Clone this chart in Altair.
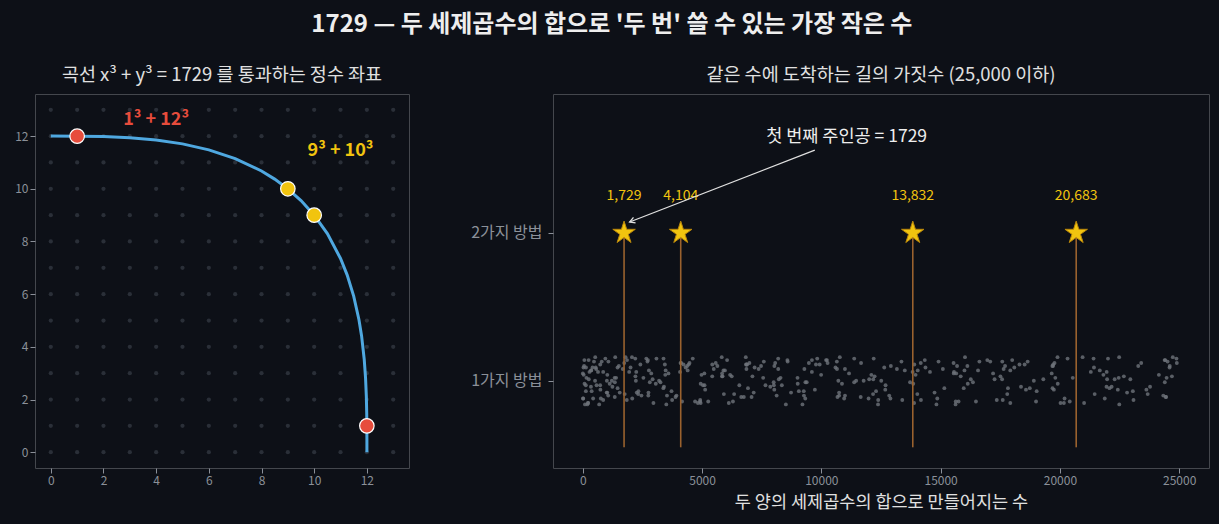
import altair as alt
import pandas as pd

# ---------------- data ----------------
lattice_vals = [0, 1, 2, 3, 4, 5, 6, 7, 8, 9, 10, 11, 12, 13]

curve_x = [0, 1, 2, 3, 4, 5, 6, 7, 8, 8.5, 9, 9.5, 10, 10.5, 11, 11.25, 11.5,
           11.7, 11.8, 11.9, 11.95, 11.98, 11.995, 12, 12.002, 12.0023]
curve_y = [12.002, 12, 11.984, 11.939, 11.852, 11.706, 11.48, 11.149, 10.676,
           10.369, 10, 9.552, 9, 8.298, 7.356, 6.733, 5.925, 5.032, 4.414,
           3.526, 2.823, 2.127, 1.467, 1, 0.5, 0]

pt_x = [1, 12, 9, 10]
pt_y = [12, 1, 10, 9]
pt_kind = ["1³ + 12³", "1³ + 12³", "9³ + 10³", "9³ + 10³"]

label_text = ["1³ + 12³", "9³ + 10³"]
label_x = [4.0, 11.0]
label_y = [12.6, 11.45]

taxi_vals = [1729, 4104, 13832, 20683]
taxi_text = ["1,729", "4,104", "13,832", "20,683"]

single_vals = [
    2, 9, 28, 65, 126, 217, 344, 513, 730, 1001, 1332, 2198, 2745, 3376, 4097,
    4914, 5833, 6860, 8001, 9262, 10649, 12168, 13825, 15626, 17577, 19684, 21953, 24390,
    16, 35, 72, 133, 224, 351, 520, 737, 1008, 1339, 1736, 2205, 2752, 3383, 4921,
    5840, 6867, 8008, 9269, 10656, 12175, 15633, 17584, 19691, 21960, 24397,
    54, 91, 152, 243, 370, 539, 756, 1027, 1358, 1755, 2224, 2771, 3402, 4123, 4940,
    5859, 6886, 8027, 9288, 10675, 12194, 13851, 15652, 17603, 19710, 21979, 24416,
    128, 189, 280, 407, 576, 793, 1064, 1395, 1792, 2261, 2808, 3439, 4160, 4977, 5896,
    6923, 8064, 9325, 10712, 12231, 13888, 15689, 17640, 19747, 22016, 24453,
    250, 341, 468, 637, 854, 1125, 1456, 1853, 2322, 2869, 3500, 4221, 5038, 5957, 6984,
    8125, 9386, 10773, 12292, 13949, 15750, 17701, 19808, 22077, 24514,
    432, 559, 728, 945, 1216, 1547, 1944, 2413, 2960, 3591, 4312, 5129, 6048, 7075, 8216,
    9477, 10864, 12383, 14040, 15841, 17792, 19899, 22168, 24605,
    686, 855, 1072, 1343, 1674, 2071, 2540, 3087, 3718, 4439, 5256, 6175, 7202, 8343, 9604,
    10991, 12510, 14167, 15968, 17919, 20026, 22295, 24732,
    1024, 1241, 1512, 1843, 2240, 2709, 3256, 3887, 4608, 5425, 6344, 7371, 8512, 9773,
    11160, 12679, 14336, 16137, 18088, 20195, 22464, 24901,
    1458, 2060, 2457, 2926, 3473, 4825, 5642, 6561, 7588, 8729, 9990, 11377, 12896, 14553,
    16354, 18305, 20412, 22681,
    2000, 2331, 2728, 3197, 3744, 4375, 5096, 5913, 6832, 7859, 9000, 10261, 11648, 13167,
    14824, 16625, 18576, 22952,
    2662, 3059, 3528, 4075, 4706, 5427, 6244, 7163, 8190, 9331, 10592, 11979, 13498, 15155,
    16956, 18907, 21014, 23283,
    3456, 3925, 4472, 5103, 5824, 6641, 7560, 8587, 9728, 10989, 12376, 13895, 15552, 17353,
    19304, 21411, 23680,
    4394, 4941, 5572, 6293, 7110, 8029, 9056, 10197, 11458, 12845, 14364, 16021, 17822,
    19773, 21880, 24149,
    5488, 6119, 6840, 7657, 8576, 9603, 10744, 12005, 13392, 14911, 16568, 18369, 20320,
    22427, 24696,
    6750, 7471, 8288, 9207, 10234, 11375, 12636, 14023, 15542, 17199, 19000, 20951, 23058,
    8192, 9009, 9928, 10955, 12096, 13357, 14744, 16263, 17920, 19721, 21672, 23779,
    9826, 10745, 11772, 12913, 14174, 15561, 17080, 18737, 20538, 22489, 24596,
    11664, 12691, 15093, 16480, 17999, 19656, 21457, 23408,
    13718, 14859, 16120, 17507, 19026, 22484, 24435,
    16000, 17261, 18648, 20167, 21824, 23625,
    18522, 19909, 21428, 23085, 24886,
    21296, 22815, 24472,
    24334,
]

# vertical jitter of the single-way dots (hundredths of a row)
jitter = [
    5, -12, 9, 14, -3, -15, 7, 0, 11, -8, 2, 15, -10, -5, 12, -14, 3, 8, -1, -7,
    13, -9, 6, -16, 1, 10, -4, 14, -12, 4, -2, 9, -15, 7, 16, -6, 0, -11, 12, 3,
    -8, 15, -13, 5, 11, -3, -10, 8, 1, -14, 13, -5, 6, -1, 10, -16, 2, 14, -7, 9,
    -12, 4, 16, -9, 0, 7, -4, 12, -15, 3, 11, -6, 8, -11, 15, -2, 5, -13, 10, 1,
    14, -7, -16, 6, 9, -3, 13, -10, 2, 16, -8, -1, 11, -14, 4, 7, -5, 12, -12, 0,
    3, -15, 10, 8, -6, 15, -11, 1, -4, 13, 6, -13, -2, 9, 14, -9, 5, -16, 11, -3,
    7, 12, -10, -1, 16, -7, 4, -14, 10, 2, -5, 13, -12, 8, -3, 15, 0, -8, 6, 11,
    -15, 5, 9, -6, 14, -11, 1, 12, -2, -13, 7, 3, -9, 16, -4, 10, -16, 6, 13, -1,
    8, -12, 2, 15, -7, 11, -14, 4, 9, -3, 14, -10, 0, 12, -5, 7, -15, 1, 16, -8,
    -4, 10, -13, 6, 13, -1, -11, 15, 3, -9, 8, -16, 11, 5, -6, 14, -2, 9, -12, 2,
    12, -5, 16, -10, 1, 7, -15, 10, -3, 13, -8, 4, 15, -12, 6, -1, 11, -14, 3, 9,
    -7, 14, 0, -13, 10, 5, -9, 16, -4, 2, 12, -11, 8, -16, 13, -6, 1, 15, -2, -10,
    6, -14, 11, 3, -8, 15, -1, 9, -12, 7, -5, 14, 0, -15, 10, 4, -10, 12, -3, 16,
    -11, 2, 13, -6, 8, -16, 11, 5, -13, 1, 15, -9, 7, -2, 12, -14, 3, 10, -7, 14,
    0, -10, 9, 16, -5, 12, -12, 4, 8, -15, 11, -3, 14, 6, -8, 1, -13, 13, 7, -4,
    15, -6, 3, -11, 10, 2, -16, 14, -1, 9, -9, 12, 5, -14, 16, -7, 8, -2, 11, -12,
    4, 13, -8, 1, -15, 11, 7, -4, 15, -10, 0, 10, -13, 6, 13, -5, 2, -16, 9, 12,
    -3, 8, -14, 14, 5, -9, 12, -1, -12, 10, 3, -7, 16, -11, 7, 1, 13, -15, 4, -6,
    11, -2, 9, -13, 15, 6, -8, 2, -10,
]

annotation_text = ["첫 번째 주인공 = 1729"]
main_title = ["1729 — 두 세제곱수의 합으로 '두 번' 쓸 수 있는 가장 작은 수"]
row_labels = {1: "1가지 방법", 2: "2가지 방법"}

# ---------------- style ----------------
BG = "#0d1017"
FONT = "Noto Sans CJK KR"
GREY = "#8b9099"
RED = "#e74c3c"
GOLD = "#f1c40f"
BLUE = "#4fa8e0"
STAR = ("M0,-1 L0.2245,-0.309 L0.951,-0.309 L0.363,0.118 L0.588,0.809 "
        "L0,0.382 L-0.588,0.809 L-0.363,0.118 L-0.951,-0.309 L-0.2245,-0.309 Z")
CHEVRON = "M-0.55,1 L0,0 L0.55,1"

# ---------------- left panel ----------------
lat_df = pd.DataFrame([{"gx": a, "gy": b} for a in lattice_vals for b in lattice_vals])
curve_df = pd.DataFrame({"x": curve_x, "y": curve_y, "o": list(range(len(curve_x)))})
pt_df = pd.DataFrame({"x": pt_x, "y": pt_y, "k": pt_kind})
lab_df = pd.DataFrame({"x": label_x, "y": label_y, "t": label_text})

lsx = alt.Scale(domain=[-0.6, 13.6], nice=False, zero=False)
lsy = alt.Scale(domain=[-0.6, 13.6], nice=False, zero=False)
lax = alt.Axis(values=[0, 2, 4, 6, 8, 10, 12], format="d", title=None)
lay = alt.Axis(values=[0, 2, 4, 6, 8, 10, 12], format="d", title=None)
col_scale = alt.Scale(domain=["1³ + 12³", "9³ + 10³"], range=[RED, GOLD])

dots = alt.Chart(lat_df).mark_circle(size=18, color="#2a2f38", opacity=1).encode(
    x=alt.X("gx:Q", scale=lsx, axis=lax), y=alt.Y("gy:Q", scale=lsy, axis=lay))
curve = alt.Chart(curve_df).mark_line(color=BLUE, strokeWidth=3).encode(
    x="x:Q", y="y:Q", order="o:Q")
pts = alt.Chart(pt_df).mark_circle(size=210, opacity=1, stroke="white", strokeWidth=1.2).encode(
    x="x:Q", y="y:Q", color=alt.Color("k:N", scale=col_scale, legend=None))
labs = alt.Chart(lab_df).mark_text(font=FONT, fontSize=18, fontWeight="bold").encode(
    x="x:Q", y="y:Q", text="t:N", color=alt.Color("t:N", scale=col_scale, legend=None))

left = alt.layer(dots, curve, pts, labs).properties(
    width=374, height=374,
    title=alt.TitleParams("곡선 x³ + y³ = 1729 를 통과하는 정수 좌표", font=FONT,
                          fontSize=18.5, fontWeight="normal", color="#e0e0e0", offset=10))

# ---------------- right panel ----------------
n = min(len(single_vals), len(jitter))
single_df = pd.DataFrame({"v": single_vals[:n], "y": [1 + j / 100 for j in jitter[:n]]})
taxi_df = pd.DataFrame({"v": taxi_vals, "t": taxi_text})
ann_df = pd.DataFrame({"t": annotation_text})

rsx = alt.Scale(domain=[-1250, 26250], nice=False, zero=False)
rsy = alt.Scale(domain=[0.41, 2.94], nice=False, zero=False)
rax = alt.Axis(values=[0, 5000, 10000, 15000, 20000, 25000], format="d",
               title="두 양의 세제곱수의 합으로 만들어지는 수", titleColor="#e0e0e0",
               titleFontSize=17.5, titleFontWeight="normal", titlePadding=7, titleFont=FONT)
ray = alt.Axis(values=[1, 2], title=None, labelFontSize=16, labelPadding=6,
               labelExpr="datum.value == 1 ? '" + row_labels[1] + "' : '" + row_labels[2] + "'")

scatter = alt.Chart(single_df).mark_circle(size=15, color="#6e737b", opacity=0.8).encode(
    x=alt.X("v:Q", scale=rsx, axis=rax), y=alt.Y("y:Q", scale=rsy, axis=ray))
stems = alt.Chart(taxi_df).mark_rule(color="#9a622e", strokeWidth=1.6).encode(
    x="v:Q", y=alt.datum(0.55), y2=alt.datum(2))
stars = alt.Chart(taxi_df).mark_point(shape=STAR, size=560, filled=True, fill=GOLD,
                                      stroke="#b8860b", strokeWidth=1, opacity=1).encode(
    x="v:Q", y=alt.datum(2))
tlabs = alt.Chart(taxi_df).mark_text(font=FONT, fontSize=14, color=GOLD).encode(
    x="v:Q", y=alt.datum(2.25), text="t:N")
arrow = alt.Chart(ann_df).mark_rule(color="#e0e0e0", strokeWidth=1.3).encode(
    x=alt.datum(9725), y=alt.datum(2.56), x2=alt.datum(1962), y2=alt.datum(2.074))
head = alt.Chart(ann_df).mark_point(shape=CHEVRON, size=110, filled=False, stroke="#e0e0e0",
                                    strokeWidth=1.3, angle=248.8, opacity=1).encode(
    x=alt.datum(1962), y=alt.datum(2.074))
ann = alt.Chart(ann_df).mark_text(font=FONT, fontSize=17.5, color="#eeeeee").encode(
    x=alt.datum(11060), y=alt.datum(2.65), text="t:N")

right = alt.layer(scatter, stems, stars, tlabs, arrow, head, ann).properties(
    width=656, height=374,
    title=alt.TitleParams("같은 수에 도착하는 길의 가짓수 (25,000 이하)", font=FONT,
                          fontSize=18.5, fontWeight="normal", color="#e0e0e0", offset=10))

chart = alt.hconcat(left, right, spacing=60).properties(
    background=BG,
    padding={"left": 6, "top": 5, "right": 2, "bottom": 2},
    title=alt.TitleParams(main_title[0], font=FONT, fontSize=24, fontWeight="bold",
                          color="#eeeeee", anchor="middle", offset=28),
).configure_view(stroke="#44474d", strokeWidth=1, fill=BG).configure_axis(
    domain=False, grid=False, tickColor=GREY, tickSize=5, labelColor=GREY,
    labelFont=FONT, labelFontSize=12, titleFont=FONT)

EMBED = {"renderer": "svg", "actions": False}
try:
    import jinja2
    PAGE = jinja2.Template("""<!DOCTYPE html>
<html>
<head>
<meta charset="utf-8">
<style>html, body { background: """ + BG + """; }</style>
<script type="text/javascript" src="{{ base_url }}/vega@{{ vega_version }}"></script>
<script type="text/javascript" src="{{ base_url }}/vega-lite@{{ vegalite_version }}"></script>
<script type="text/javascript" src="{{ base_url }}/vega-embed@{{ vegaembed_version }}"></script>
</head>
<body>
<div id="{{ output_div }}"></div>
<script type="text/javascript">
vegaEmbed("#{{ output_div }}", {{ spec }}, {{ embed_options }}).catch(console.error);
</script>
</body>
</html>
""")
    chart.save("out.html", embed_options=EMBED, template=PAGE)
except Exception:
    chart.save("out.html", embed_options=EMBED)
